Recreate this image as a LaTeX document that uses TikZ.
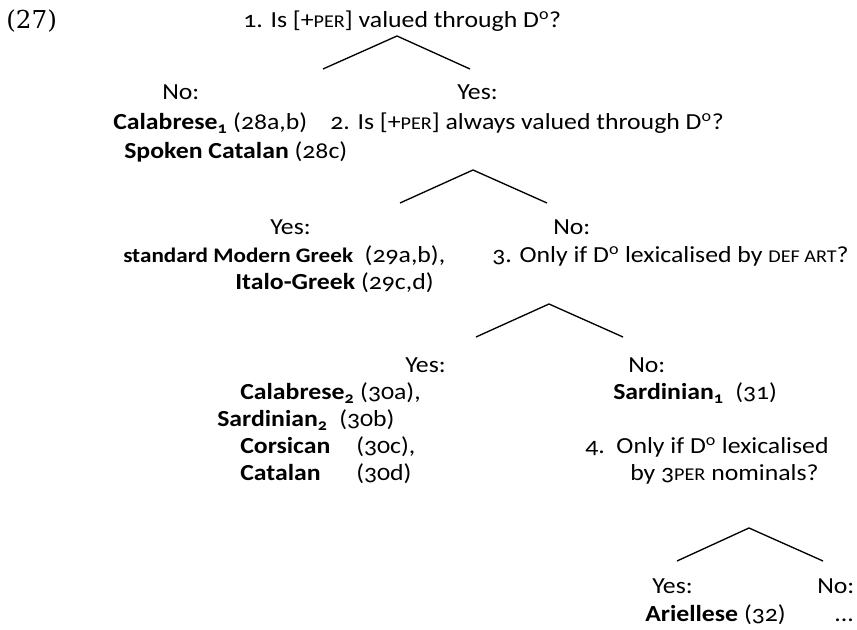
\documentclass[tikz,border=0pt]{standalone}
\usepackage{fontspec}
\setmainfont{Carlito}[Numbers=OldStyle,FakeStretch=1.12]
\newfontfamily\exfont{DejaVu Serif}
\newcommand\feat[1]{{\fontsize{13.5}{16}\selectfont #1}}
\newcommand\Do{D\textsuperscript{o}}
\begin{document}
\begin{tikzpicture}[x=0.75pt,y=-0.75pt,
    every node/.style={inner sep=0pt,anchor=base west,
      font=\fontsize{17.25}{21}\selectfont}]
      \useasboundingbox (0,0) rectangle (857,630);
      \path
        (6,29) node (ex){\exfont\fontsize{18.5}{21}\selectfont (27)}
        (243,28) node (q1){1. Is [+\feat{PER}] valued through \Do?}
        (162,100) node (no1){No:}
        (457,100) node (yes1){Yes:}
        (113,130) node (cal1){\textbf{Calabrese\textsubscript{1}} (28a,b)}
        (124,159) node (spk){\textbf{Spoken Catalan} (28c)}
        (330,130) node (q2){2. Is [+\feat{PER}] always valued through \Do?}
        (270,235) node (yes2){Yes:}
        (553,235) node (no2){No:}
        (123,263) node (smg){{\fontsize{15.5}{19}\selectfont\textbf{standard Modern Greek}}\ \ (29a,b),}
        (235,290) node (itg){\textbf{Italo-Greek} (29c,d)}
        (492,263) node (q3){3. Only if \Do\ lexicalised by \feat{DEF ART}?}
        (405,373) node (yes3){Yes:}
        (628,373) node (no3){No:}
        (240,400) node (cal2){\textbf{Calabrese\textsubscript{2}} (30a),}
        (217,427) node (sar2){\textbf{Sardinian\textsubscript{2}}\ \ (30b)}
        (240,454) node (cor){\makebox[87pt][l]{\textbf{Corsican}}(30c),}
        (240,481) node (cat){\makebox[87pt][l]{\textbf{Catalan}}(30d)}
        (613,400) node (sar1){\textbf{Sardinian\textsubscript{1}}\ \ (31)}
        (585,454) node (q4a){4.\ \ Only if \Do\ lexicalised}
        (630,481) node (q4b){by 3\feat{PER} nominals?}
        (652,594) node (yes4){Yes:}
        (817,594) node (no4){No:}
        (645,621) node (ari){\textbf{Ariellese} (32)}
        (834,621) node (dots){...};
      % branching points
      \path
        (397,36) coordinate (t1) (323,69) coordinate (l1) (470,69) coordinate (r1)
        (473,170) coordinate (t2) (400,203) coordinate (l2) (547,203) coordinate (r2)
        (549,304) coordinate (t3) (476,337) coordinate (l3) (623,337) coordinate (r3)
        (749,528) coordinate (t4) (677,561) coordinate (l4) (823,561) coordinate (r4);
      \begin{scope}[line width=1pt]
        \draw (l1) -- (t1) -- (r1);
        \draw (l2) -- (t2) -- (r2);
        \draw (l3) -- (t3) -- (r3);
        \draw (l4) -- (t4) -- (r4);
      \end{scope}
    \end{tikzpicture}
\end{document}
